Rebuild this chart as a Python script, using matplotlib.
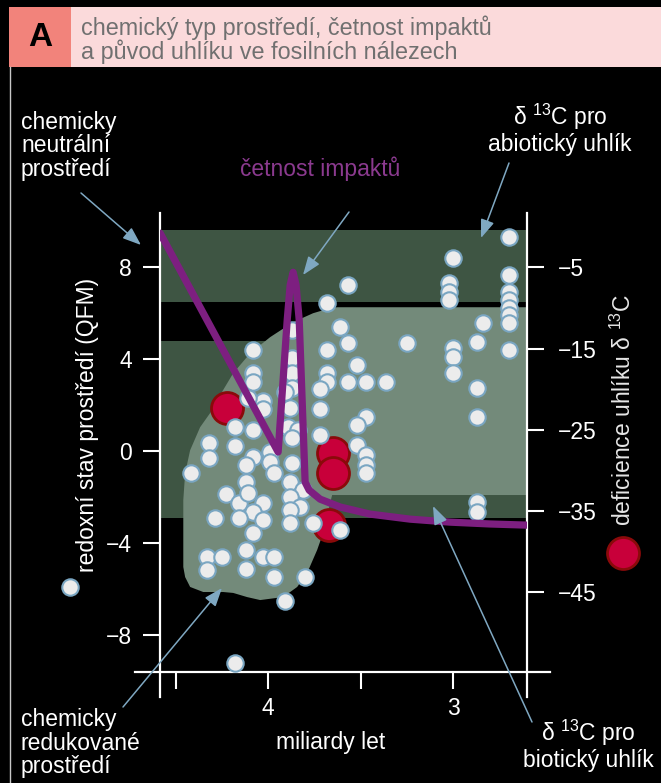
import matplotlib
matplotlib.use('Agg')
import matplotlib.pyplot as plt
import matplotlib.transforms as mtransforms
from matplotlib.patches import Rectangle, Polygon
from matplotlib.lines import Line2D

plt.rcParams['font.family'] = ['Liberation Sans', 'DejaVu Sans']
plt.rcParams['mathtext.fontset'] = 'custom'
plt.rcParams['mathtext.rm'] = 'Liberation Sans'
plt.rcParams['mathtext.it'] = 'Liberation Sans:italic'
plt.rcParams['mathtext.bf'] = 'Liberation Sans:bold'

# stari vzorku (miliardy let) a redoxni stav (QFM) -- bile body
qfm_age = [2.70, 2.70, 2.70, 2.70, 2.70, 2.70, 2.70, 2.70,
           3.00, 3.02, 3.02, 3.02, 3.00, 3.00, 3.00,
           2.84, 2.87, 2.87, 2.87, 2.87, 2.87,
           3.57, 3.68, 3.61, 3.57, 3.25, 3.68, 3.52, 3.68, 3.68, 3.72,
           3.57, 3.47, 3.36, 3.72, 3.47, 3.52, 3.72, 3.52, 3.47, 3.47, 3.47,
           3.87, 3.87, 3.87, 3.87, 3.88, 3.89, 3.84, 3.87, 3.87, 3.88,
           3.81, 3.88, 3.83, 3.88, 3.88, 3.76, 3.61,
           4.08, 4.08, 4.08, 4.03, 4.03, 3.91, 4.11, 4.18, 4.08, 4.32,
           4.32, 4.42, 4.18, 4.08, 4.12, 3.99, 3.99, 3.97, 4.12, 4.23,
           4.16, 4.11, 4.03, 4.08, 4.29, 4.16, 4.03, 4.08, 4.12, 4.33,
           4.25, 4.33, 4.12, 4.03, 3.97, 3.97, 3.80, 3.91, 4.18]
qfm_val = [9.30, 7.65, 6.91, 6.57, 6.22, 5.91, 5.57, 4.39,
           8.39, 7.30, 6.91, 6.57, 4.48, 4.09, 3.39,
           5.57, 4.74, 2.74, 1.48, -2.22, -2.65,
           7.22, 6.43, 5.39, 4.70, 4.70, 4.39, 3.74, 3.39, 3.00, 2.70,
           3.00, 3.00, 3.00, 1.83, 1.48, 1.13, 0.70, 0.26, -0.17, -0.61, -0.96,
           5.26, 4.04, 3.39, 2.74, 1.87, 1.04, 0.91, 0.57, -0.52, -1.35,
           -1.70, -2.00, -2.43, -2.57, -3.13, -3.13, -3.43,
           4.39, 3.39, 3.00, 2.17, 1.83, 2.57, 2.30, 1.04, 0.91, 0.35,
           -0.30, -0.96, 0.22, -0.26, -0.61, -0.04, -0.48, -0.96, -1.35, -1.87,
           -2.26, -1.83, -2.26, -2.65, -2.91, -2.91, -3.00, -3.57, -4.30, -4.61,
           -4.61, -5.17, -5.13, -4.61, -4.61, -5.48, -5.48, -6.52, -9.22]

# deficience uhliku d13C -- cervene body
d13c_age = [4.22, 3.65, 3.65, 3.67]
d13c_val = [-22.3, -27.9, -30.3, -36.7]

# cetnost impaktu (kvalitativni krivka v souradnicich QFM)
impact_age = [4.584, 3.946, 3.897, 3.881, 3.865, 3.849, 3.832, 3.800, 3.778,
              3.719, 3.611, 3.449, 3.232, 3.016, 2.800, 2.600]
impact_val = [9.48, -0.04, 5.70, 7.22, 7.78, 7.22, 5.70, -1.35, -1.70,
              -2.09, -2.43, -2.74, -2.96, -3.09, -3.17, -3.22]

# rozsahy d13C: abioticky a bioticky uhlik
abiotic_band = (-9.27, -0.41)
biotic_band = (-35.9, -14.08)

# oblast chemicky redukovaneho / neutralniho prostredi (QFM)
env_age = [3.627, 2.500, 2.500, 3.654, 3.681, 3.703, 3.735, 3.789, 3.843, 3.919,
           4.043, 4.114, 4.189, 4.243, 4.351, 4.422, 4.449, 4.459, 4.459, 4.449,
           4.422, 4.368, 4.303, 4.276, 4.189, 4.097, 3.989, 3.865, 3.757, 3.665]
env_val = [6.26, 6.26, -1.91, -1.91, -2.78, -3.57, -4.30, -5.30, -5.91, -6.35,
           -6.48, -6.35, -6.17, -6.13, -6.13, -5.91, -5.48, -5.04, -2.13, -0.96,
           0.04, 1.04, 1.78, 2.22, 3.39, 4.26, 4.96, 5.61, 6.00, 6.22]

qfm_ticks = [8, 4, 0, -4, -8]
d13c_ticks = [-5, -15, -25, -35, -45]
age_ticks = [4, 3]
age_minor = [4.5, 3.5]

W, H = 661, 783
FS = 16.5
fig = plt.figure(figsize=(W / 100, H / 100), dpi=100, facecolor='black')

ax = fig.add_axes([160 / W, 1 - 672 / H, 367 / W, 459 / H])
ax.set_facecolor('black')
ax.set_xlim(4.585, 2.6)
ax.set_ylim(-9.61, 10.36)
ax2 = ax.twinx()
ax2.set_ylim(-54.84, 1.69)

band_tr = mtransforms.blended_transform_factory(ax.transAxes, ax2.transData)
for lo, hi in (abiotic_band, biotic_band):
    ax.add_patch(Rectangle((0, lo), 1, hi - lo, transform=band_tr,
                           facecolor='#3e5543', edgecolor='none', zorder=1))

ax.add_patch(Polygon(list(zip(env_age, env_val)), closed=True,
                     facecolor='#738a7a', edgecolor='none', zorder=2))

ax.scatter(d13c_age, d13c_val, s=530, transform=ax2.transData,
           facecolor='#c8003a', edgecolor='#8a0a0a', linewidth=2, zorder=3)
ax.scatter(qfm_age, qfm_val, s=140, facecolor='#ececec',
           edgecolor='#7aa6c2', linewidth=1.5, zorder=4)
ax.plot(impact_age, impact_val, color='#7d1f80', lw=5.2,
        solid_capstyle='round', solid_joinstyle='round', zorder=5)

for s in ax.spines.values():
    s.set_visible(False)
for s in ax2.spines.values():
    s.set_visible(False)

frame = dict(color='white', lw=1.6, clip_on=False, transform=ax.transAxes)
ax.add_line(Line2D([0, 0], [-0.054, 1], **frame))
ax.add_line(Line2D([1, 1], [-0.054, 1], **frame))
ax.add_line(Line2D([-0.068, 1.063], [0, 0], **frame))

ax.set_yticks(qfm_ticks)
ax.set_yticklabels([f'{t}'.replace('-', '\u2212') for t in qfm_ticks])
ax.tick_params(axis='y', direction='out', length=12, width=1.5,
               colors='white', labelsize=FS, pad=8)
ax2.set_yticks(d13c_ticks)
ax2.set_yticklabels([f'{t}'.replace('-', '\u2212') for t in d13c_ticks])
ax2.tick_params(axis='y', direction='out', length=12, width=1.5,
                colors='white', labelsize=FS, pad=10)
ax.set_xticks(age_ticks)
ax.set_xticks(age_minor, minor=True)
ax.tick_params(axis='x', which='both', direction='out', length=12, width=1.5,
               colors='white', labelsize=FS, pad=6)

# popisky, hlavicka a sipky
ov = fig.add_axes([0, 0, 1, 1])
ov.set_xlim(0, W)
ov.set_ylim(H, 0)
ov.axis('off')
ov.patch.set_visible(False)

ov.add_patch(Rectangle((9, 7), W - 9, 60, facecolor='#fbdadb', edgecolor='none'))
ov.add_patch(Rectangle((9, 7), 62, 60, facecolor='#f2837b', edgecolor='none'))
ov.text(40, 38, 'A', fontsize=24, fontweight='bold', color='black',
        ha='center', va='center')
ov.text(81, 28, 'chemický typ prostředí, četnost impaktů', fontsize=16.8,
        color='#707070', va='center')
ov.text(81, 52, 'a původ uhlíku ve fosilních nálezech', fontsize=16.8,
        color='#707070', va='center')
ov.add_line(Line2D([10, 10], [67, H], color='#c8c8c8', lw=1))

txt = dict(color='white', fontsize=FS, linespacing=1.05)
sup13 = r'$^{\mathrm{13}}$'
ov.text(21, 146, 'chemicky\nneutrální\nprostředí', ha='left', va='center', **txt)
ov.text(21, 743, 'chemicky\nredukované\nprostředí', ha='left', va='center', **txt)
ov.text(560, 129, f'δ {sup13}C pro\nabiotický uhlík', ha='center', va='center', **txt)
ov.text(588, 745, f'δ {sup13}C pro\nbiotický uhlík', ha='center', va='center', **txt)
ov.text(331, 742, 'miliardy let', ha='center', va='center', **txt)
ov.text(320, 169, 'četnost impaktů', ha='center', va='center',
        color='#8b3a8f', fontsize=FS)
ov.text(88, 425, 'redoxní stav prostředí (QFM)', rotation=90,
        ha='center', va='center', **txt)
ov.text(623, 410, f'deficience uhlíku δ {sup13}C', rotation=90,
        ha='center', va='center', color='#e6e6e6', fontsize=FS)

ov.scatter([70], [587], s=140, facecolor='#ececec', edgecolor='#7aa6c2', linewidth=1.5)
ov.scatter([623], [553], s=530, facecolor='#c8003a', edgecolor='#8a0a0a', linewidth=2)

arrow = dict(arrowstyle='-|>,head_length=0.8,head_width=0.3', color='#7fa8c2',
             lw=1.1, mutation_scale=14, shrinkA=0, shrinkB=0)
for (x0, y0), (x1, y1) in [((81, 193), (141, 245)),
                           ((349, 212), (303, 275)),
                           ((509, 163), (481, 238)),
                           ((123, 707), (222, 588)),
                           ((532, 722), (433, 506))]:
    ov.annotate('', xy=(x1, y1), xytext=(x0, y0), arrowprops=arrow)

fig.savefig('out.png', dpi=100, facecolor='black')
